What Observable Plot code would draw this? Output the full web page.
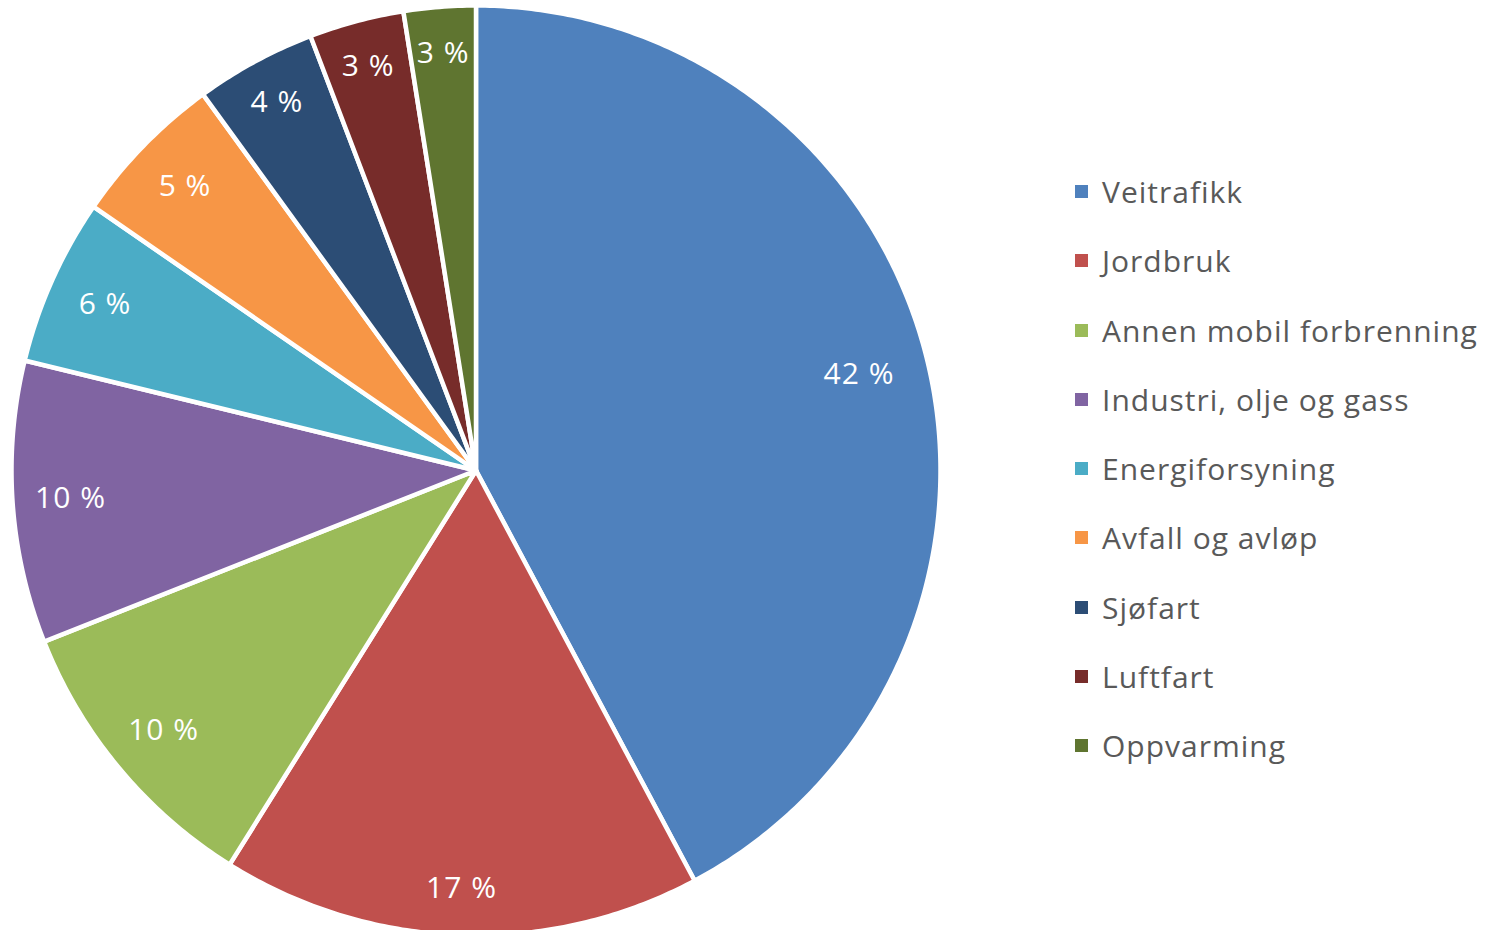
<!DOCTYPE html>
<html>
<head>
<meta charset="utf-8">
<script src="https://cdn.jsdelivr.net/npm/d3@7"></script>
<script src="https://cdn.jsdelivr.net/npm/@observablehq/plot@0.6"></script>
<style>
  html, body { margin: 0; padding: 0; background: #fff; }
  #wrap { position: relative; width: 1494px; height: 930px; overflow: hidden; }
  #legend { position: absolute; left: 1075px; top: 157px; font-family: "Open Sans", Lato, sans-serif; font-size: 30px; letter-spacing: 1px; color: #595959; }
  .row { height: 69.25px; display: flex; align-items: center; white-space: nowrap; }
  .sw { width: 13px; height: 13px; margin-right: 14px; flex: none; }
</style>
</head>
<body>
<div id="wrap"><div id="chart"></div><div id="legend"></div></div>
<script>
const categories = ["Veitrafikk", "Jordbruk", "Annen mobil forbrenning", "Industri, olje og gass", "Energiforsyning", "Avfall og avløp", "Sjøfart", "Luftfart", "Oppvarming"];
const values = [42.2, 16.7, 10.1, 9.8, 5.8, 5.4, 4.2, 3.3, 2.5];
const colors = ["#4F81BD", "#C0504D", "#9BBB59", "#8064A2", "#4BACC6", "#F79646", "#2C4D75", "#772C2A", "#5F7530"];

const arcs = d3.pie().sort(null).value(d => d)(values);
const pts = [];
arcs.forEach((a, i) => {
  const cat = categories[i];
  pts.push({cat, x: 0, y: 0});
  const n = Math.max(2, Math.ceil((a.endAngle - a.startAngle) / 0.01));
  for (let k = 0; k <= n; k++) {
    const t = a.startAngle + (a.endAngle - a.startAngle) * k / n;
    pts.push({cat, x: Math.sin(t), y: Math.cos(t)});
  }
});
const labels = arcs.map((a, i) => {
  const m = (a.startAngle + a.endAngle) / 2;
  const v = values[i];
  const r = v > 40 ? 0.85 : v > 15 ? 0.9 : v >= 5 ? 0.875 : 0.9;
  return {x: r * Math.sin(m), y: r * Math.cos(m), text: Math.round(v) + " %"};
});

const plot = Plot.plot({
  width: 1494,
  height: 930,
  margin: 0,
  x: {domain: [-1, 1], range: [11, 940], axis: null},
  y: {domain: [-1, 1], range: [935, 5], axis: null},
  color: {domain: categories, range: colors},
  style: {fontFamily: "'Open Sans', Lato, sans-serif", background: "#fff"},
  marks: [
    Plot.line(pts, {x: "x", y: "y", z: "cat", fill: "cat", stroke: "white", strokeWidth: 4.5, curve: "linear-closed", strokeLinejoin: "round"}),
    Plot.text(labels, {x: "x", y: "y", text: "text", fill: "white", fontSize: 30, style: "letter-spacing: 1px"})
  ]
});
document.getElementById("chart").appendChild(plot);
plot.querySelectorAll("text").forEach(t => t.setAttribute("letter-spacing", "1"));

const legend = document.getElementById("legend");
categories.forEach((c, i) => {
  const row = document.createElement("div");
  row.className = "row";
  const sw = document.createElement("span");
  sw.className = "sw";
  sw.style.background = colors[i];
  const tx = document.createElement("span");
  tx.textContent = c;
  row.appendChild(sw);
  row.appendChild(tx);
  legend.appendChild(row);
});
</script>
</body>
</html>
